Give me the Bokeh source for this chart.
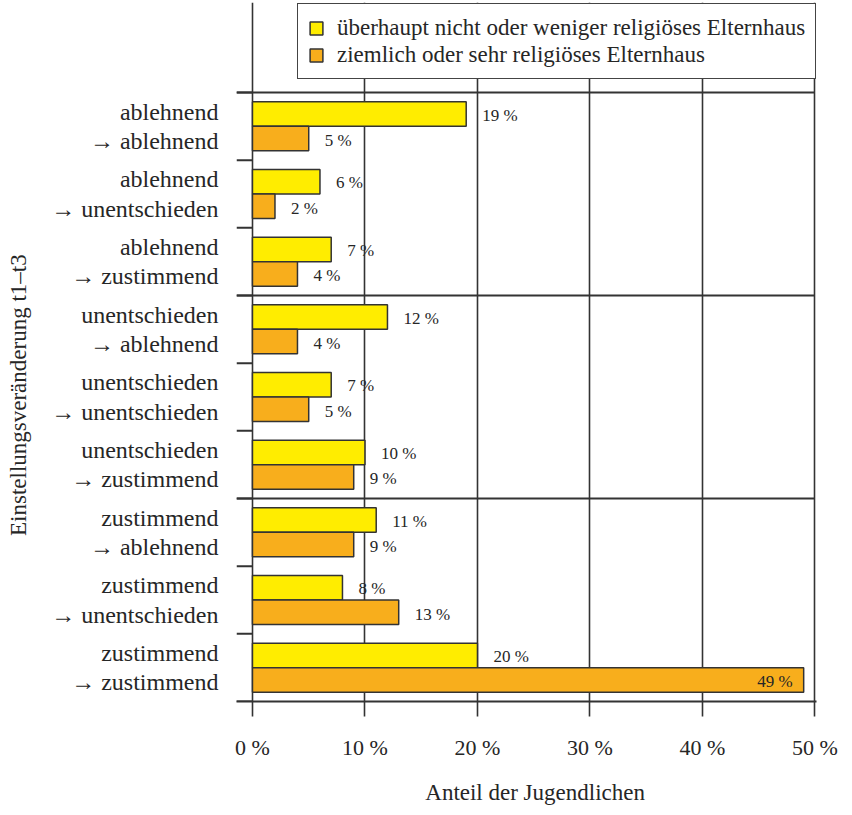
from bokeh.plotting import figure
from bokeh.models import (ColumnDataSource, Range1d, FixedTicker, Legend, LegendItem)
from bokeh.core.properties import value
from bokeh.embed import file_html
from bokeh.resources import INLINE

# ---------------- data ----------------
categories = [
    "ablehnend\n→ ablehnend",
    "ablehnend\n→ unentschieden",
    "ablehnend\n→ zustimmend",
    "unentschieden\n→ ablehnend",
    "unentschieden\n→ unentschieden",
    "unentschieden\n→ zustimmend",
    "zustimmend\n→ ablehnend",
    "zustimmend\n→ unentschieden",
    "zustimmend\n→ zustimmend",
]
series_names = [
    "überhaupt nicht oder weniger religiöses Elternhaus",
    "ziemlich oder sehr religiöses Elternhaus",
]
low_religious = [19, 6, 7, 12, 7, 10, 11, 8, 20]
high_religious = [5, 2, 4, 4, 5, 9, 9, 13, 49]
group_size = 3  # categories per starting attitude
x_ticks = [0, 10, 20, 30, 40, 50]
x_tick_labels = ["0 %", "10 %", "20 %", "30 %", "40 %", "50 %"]

# ---------------- style ----------------
FONT = "Liberation Serif"
YELLOW = "#FFED00"
ORANGE = "#F8AE1C"
DARK = "#333333"
TXT = "#262626"
NB = "\u00a0"

n = len(categories)
ypos = [n - i for i in range(n)]          # first category on top, one unit per band
bh = 0.362
off = 0.181

src = ColumnDataSource(dict(
    y_low=[y + off for y in ypos],
    y_high=[y - off for y in ypos],
    low=low_religious,
    high=high_religious,
    low_lbl=[f"{v} %" for v in low_religious],
    high_lbl=[f"{v} %" for v in high_religious],
    high_align=["right" if v > 40 else "left" for v in high_religious],
    high_off=[-11 if v > 40 else 16 for v in high_religious],
))

# frame: page y 10 .. 709, bands of 609/9 px -> extra room above the bands for the legend
band_px = 609 / n
frame_px = 699
p = figure(width=844, height=807, output_backend="svg", toolbar_location=None,
           x_range=Range1d(-1.42, 50.14),
           y_range=Range1d(0.5, 0.5 + frame_px / band_px))
p.min_border_left = 236
p.min_border_top = 2
p.min_border_right = 28
p.min_border_bottom = 106
p.outline_line_color = None
p.background_fill_color = "white"
p.border_fill_color = "white"

# vertical grid lines, only over the bands
p.xgrid.ticker = FixedTicker(ticks=x_ticks)
p.xgrid.grid_line_color = DARK
p.xgrid.grid_line_width = 1.6
p.xgrid.bounds = (0.5, n + 0.5)
p.ygrid.grid_line_color = None

# tick stubs at band boundaries and group separator lines
bounds = [b + 0.5 for b in range(n + 1)]
p.segment(x0=[p.x_range.start] * len(bounds), x1=[x_ticks[0]] * len(bounds),
          y0=bounds, y1=bounds, line_color=DARK, line_width=2)
sep = [b + 0.5 for b in range(n + 1) if b % group_size == 0 and b > 0]
p.segment(x0=[p.x_range.start] * len(sep), x1=[x_ticks[-1]] * len(sep), y0=sep, y1=sep,
          line_color=DARK, line_width=1.8)

r1 = p.hbar(y="y_low", left=0, right="low", height=bh,
            source=src, fill_color=YELLOW, line_color=DARK, line_width=1.5)
r2 = p.hbar(y="y_high", left=0, right="high", height=bh,
            source=src, fill_color=ORANGE, line_color=DARK, line_width=1.5)

p.text(x="low", y="y_low", text="low_lbl", source=src,
       x_offset=16, y_offset=1, text_align="left", text_baseline="middle",
       text_font=value(FONT), text_font_size="17px", text_color=TXT)
p.text(x="high", y="y_high", text="high_lbl", source=src,
       x_offset="high_off", y_offset=2, text_align="high_align", text_baseline="middle",
       text_font=value(FONT), text_font_size="17px", text_color=TXT)

# x axis
xa = p.xaxis[0]
xa.ticker = FixedTicker(ticks=x_ticks)
xa.major_label_overrides = {t: l for t, l in zip(x_ticks, x_tick_labels)}
xa.axis_line_color = DARK
xa.axis_line_width = 2
xa.major_tick_line_color = DARK
xa.major_tick_line_width = 1.6
xa.major_tick_out = 15
xa.major_tick_in = 0
xa.minor_tick_line_color = None
xa.major_label_standoff = 18
xa.major_label_text_font = FONT
xa.major_label_text_font_size = "22px"
xa.major_label_text_color = TXT
xa.axis_label = NB * 3 + "Anteil der Jugendlichen"
xa.axis_label_text_font = FONT
xa.axis_label_text_font_size = "23px"
xa.axis_label_text_font_style = "normal"
xa.axis_label_text_color = TXT
xa.axis_label_standoff = 17

# y axis (category labels at band centres)
ya = p.yaxis[0]
ya.ticker = FixedTicker(ticks=ypos)
ya.major_label_overrides = {y: c for y, c in zip(ypos, categories)}
ya.axis_line_color = None
ya.major_tick_line_color = None
ya.minor_tick_line_color = None
ya.major_tick_out = 0
ya.major_tick_in = 0
ya.major_label_standoff = 18
ya.major_label_text_font = FONT
ya.major_label_text_font_size = "24px"
ya.major_label_text_line_height = 1.12
ya.major_label_text_color = TXT
ya.axis_label = "Einstellungsveränderung t1–t3" + NB * 15
ya.axis_label_text_font = FONT
ya.axis_label_text_font_size = "23px"
ya.axis_label_text_font_style = "normal"
ya.axis_label_text_color = TXT
ya.axis_label_standoff = 17

legend = Legend(items=[LegendItem(label=series_names[0], renderers=[r1]),
                       LegendItem(label=series_names[1], renderers=[r2])],
                location=(61, 622))
legend.label_text_font = FONT
legend.label_text_font_size = "23px"
legend.label_text_color = TXT
legend.glyph_width = 16
legend.glyph_height = 16
legend.label_standoff = 13
legend.padding = 10
legend.spacing = 0
legend.label_height = 27
legend.margin = 0
legend.border_line_color = "#444444"
legend.border_line_alpha = 1
legend.border_line_width = 1.5
legend.background_fill_alpha = 1
p.add_layout(legend, "center")

open("out.html", "w").write(file_html(p, INLINE))
